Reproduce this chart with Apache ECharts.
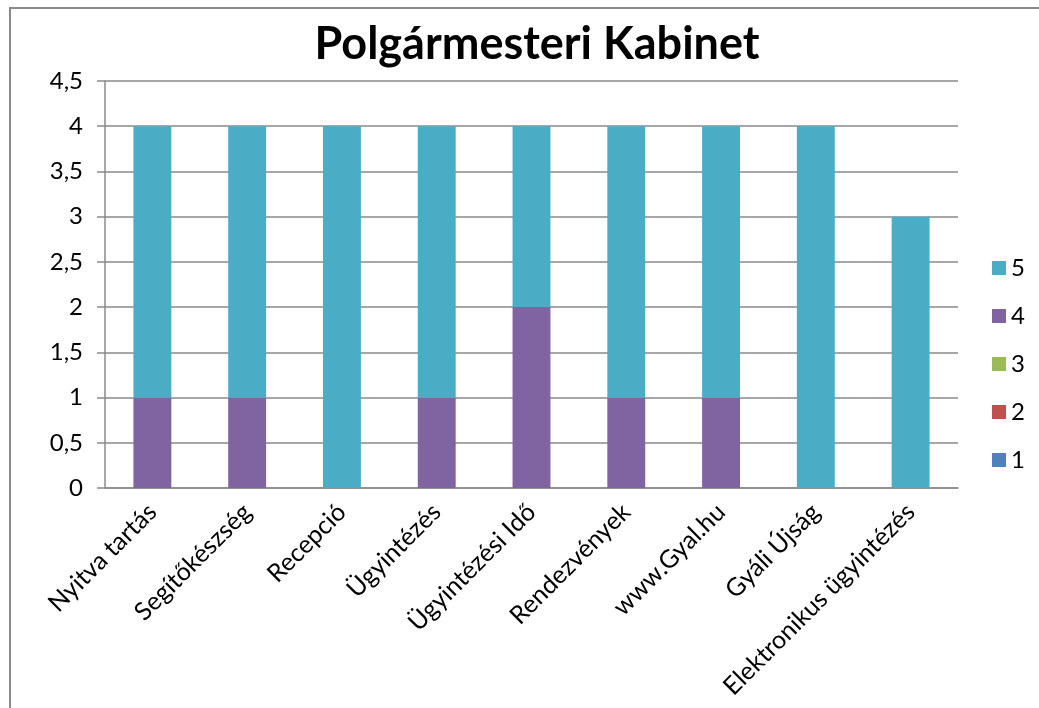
<!DOCTYPE html>
<html>
<head>
<meta charset="utf-8">
<script src="https://cdn.jsdelivr.net/npm/echarts@6/dist/echarts.min.js"></script>
<style>
  html, body { margin: 0; padding: 0; background: #fff; }
  #frame { position: absolute; left: 9px; top: 7px; width: 1030px; height: 701px;
    border-left: 2px solid #8a8a8a; border-top: 2px solid #8a8a8a; box-sizing: border-box; }
  #chart { position: absolute; left: 0; top: 0; width: 1039px; height: 708px; }
</style>
</head>
<body>
<div id="frame"></div>
<div id="chart"></div>
<script>
const categories = ["Nyitva tartás", "Segítőkészség", "Recepció", "Ügyintézés",
  "Ügyintézési Idő", "Rendezvények", "www.Gyal.hu", "Gyáli Újság", "Elektronikus ügyintézés"];

const seriesNames = ["1", "2", "3", "4", "5"];
const values1 = [0, 0, 0, 0, 0, 0, 0, 0, 0];
const values2 = [0, 0, 0, 0, 0, 0, 0, 0, 0];
const values3 = [0, 0, 0, 0, 0, 0, 0, 0, 0];
const values4 = [1, 1, 0, 1, 2, 1, 1, 0, 0];
const values5 = [3, 3, 4, 3, 2, 3, 3, 4, 3];

const colors = ["#4F81BD", "#C0504D", "#9BBB59", "#8064A2", "#4BACC6"];
const font = "Lato";

const myChart = echarts.init(document.getElementById("chart"));

const allValues = [values1, values2, values3, values4, values5];

const option = {
  animation: false,
  color: colors,
  title: {
    text: "Polgármesteri Kabinet",
    left: 532,
    textAlign: "center",
    top: 17,
    textStyle: { fontFamily: font, fontSize: 45, fontWeight: "bold", color: "#000" }
  },
  legend: {
    data: seriesNames.slice().reverse(),
    orient: "vertical",
    left: 987,
    top: 251,
    itemWidth: 14,
    itemHeight: 14,
    itemGap: 24,
    icon: "rect",
    textStyle: { fontFamily: font, fontSize: 24, color: "#000" }
  },
  grid: { left: 105, right: 81, top: 81, bottom: 220 },
  xAxis: {
    type: "category",
    data: categories,
    axisLine: { lineStyle: { color: "#8a8a8a", width: 1.5 } },
    axisTick: { length: 8, lineStyle: { color: "#8a8a8a", width: 1.5 } },
    axisLabel: { rotate: 45, fontFamily: font, fontSize: 25, color: "#000", margin: 20, interval: 0 }
  },
  yAxis: {
    type: "value",
    min: 0,
    max: 4.5,
    interval: 0.5,
    axisLine: { show: true, lineStyle: { color: "#8a8a8a", width: 1.5 } },
    axisTick: { show: true, length: 8, lineStyle: { color: "#8a8a8a", width: 1.5 } },
    splitLine: { lineStyle: { color: "#8a8a8a", width: 1.5 } },
    axisLabel: {
      fontFamily: font, fontSize: 24, color: "#000", margin: 22,
      formatter: v => String(v).replace(".", ",")
    }
  },
  series: seriesNames.map((name, i) => ({
    name: name,
    type: "bar",
    stack: "total",
    barWidth: "40%",
    data: allValues[i]
  }))
};

myChart.setOption(option);
</script>
</body>
</html>
